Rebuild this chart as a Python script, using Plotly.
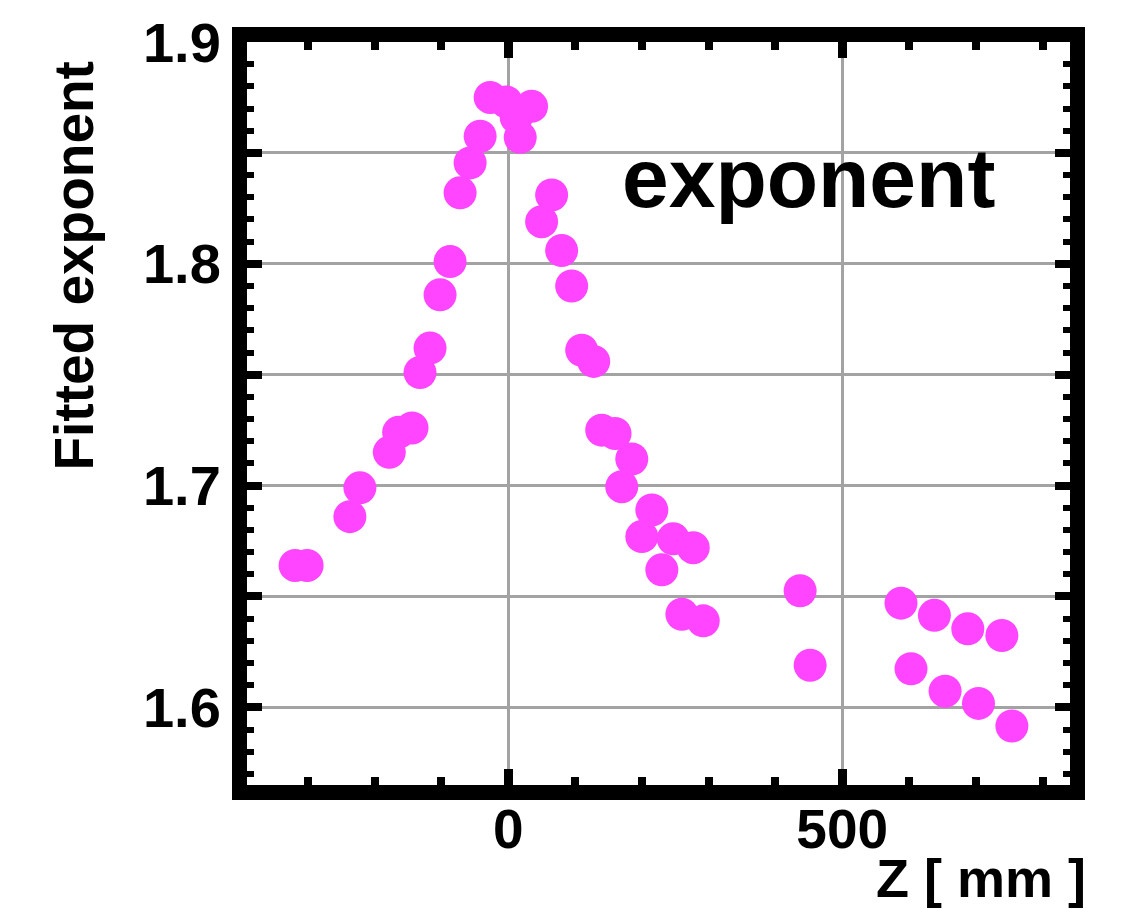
import plotly.graph_objects as go

# Position along the beam axis (mm) and the fitted exponent at each position
z_mm = [-319, -301, -237, -222, -178, -164, -144, -132, -117, -102, -87, -72,
        -57, -42, -27, -3, 12, 18, 35,
        50, 65, 80, 95, 110, 128, 140, 160, 170, 185, 200, 215, 230, 247,
        260, 277, 292,
        437, 452, 588, 603, 638, 654, 688, 704, 739, 754]
exponent = [1.664, 1.664, 1.686, 1.699, 1.715, 1.724, 1.726, 1.751, 1.762, 1.786,
            1.801, 1.832, 1.8455, 1.8575, 1.875, 1.873, 1.866, 1.857, 1.871,
            1.819, 1.831, 1.806, 1.790, 1.761, 1.756, 1.725, 1.7235, 1.6995,
            1.712, 1.677, 1.689, 1.662, 1.676, 1.642, 1.672, 1.639,
            1.6526, 1.619, 1.647, 1.6174, 1.6415, 1.6073, 1.6354, 1.6018,
            1.6324, 1.5916]

x_tickvals = [0, 500]
x_ticktext = ["0", "500"]
y_tickvals = [1.6, 1.65, 1.7, 1.75, 1.8, 1.85, 1.9]
y_ticktext = ["1.6", "", "1.7", "", "1.8", "", "1.9"]

FONT = "Liberation Sans, Arial, Helvetica, sans-serif"
MAGENTA = "#ff45ff"
GRID = "#a3a3a3"

fig = go.Figure()
fig.add_trace(go.Scatter(
    x=z_mm, y=exponent, mode="markers",
    marker=dict(size=33, color=MAGENTA, line=dict(width=0)),
    showlegend=False, hoverinfo="skip",
))

fig.update_layout(
    width=1127, height=915,
    margin=dict(l=247, r=57, t=42, b=130),
    paper_bgcolor="white", plot_bgcolor="white",
    font=dict(family=FONT, color="black", size=55, weight="bold"),
    xaxis=dict(
        range=[-391, 841], tickvals=x_tickvals, ticktext=x_ticktext,
        showline=True, linewidth=15, linecolor="black", mirror="ticks",
        ticks="inside", ticklen=16, tickwidth=9, tickcolor="black",
        showgrid=True, gridcolor=GRID, gridwidth=3, zeroline=False,
        tickfont=dict(size=55, weight="bold"), ticklabelstandoff=-18,
        minor=dict(dtick=100, tick0=0, ticks="inside", ticklen=8,
                   tickwidth=8, tickcolor="black", showgrid=False),
    ),
    yaxis=dict(
        range=[1.565, 1.9], tickvals=y_tickvals, ticktext=y_ticktext,
        showline=True, linewidth=15, linecolor="black", mirror="ticks",
        ticks="inside", ticklen=15, tickwidth=8, tickcolor="black",
        showgrid=True, gridcolor=GRID, gridwidth=3, zeroline=False,
        tickfont=dict(size=56, weight="bold"),
        minor=dict(dtick=0.01, tick0=1.6, ticks="inside", ticklen=7,
                   tickwidth=6, tickcolor="black", showgrid=False),
    ),
    annotations=[
        dict(text="exponent", xref="x", yref="y", x=167, y=1.8385,
             xanchor="left", yanchor="middle", showarrow=False,
             font=dict(size=84, weight="bold", family=FONT)),
        dict(text="Fitted exponent", xref="paper", yref="paper",
             x=-0.21, y=0.698, textangle=-90, xanchor="center", yanchor="middle",
             showarrow=False, font=dict(size=55, weight="bold", family=FONT)),
        dict(text="Z [ mm ]", xref="paper", yref="paper", x=1.022, y=-0.125,
             xanchor="right", yanchor="middle", showarrow=False,
             font=dict(size=54, weight="bold", family=FONT)),
    ],
)

fig.write_html("out.html")
